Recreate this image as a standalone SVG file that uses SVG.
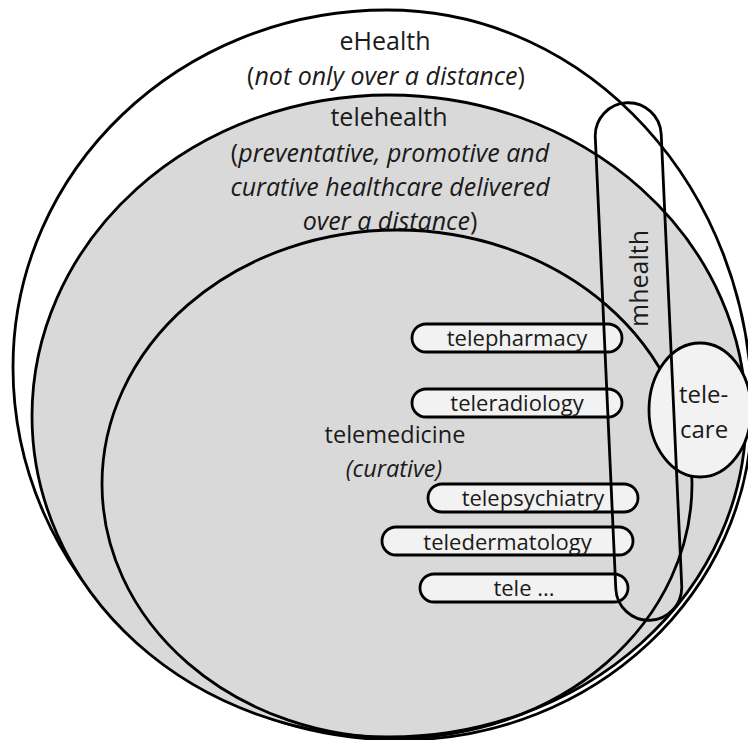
<svg xmlns="http://www.w3.org/2000/svg" width="748" height="740" viewBox="0 0 748 740">
<style>
.ln{stroke:#000;stroke-width:2.8;}
.grey{fill:#d9d9d9;}
.light{fill:#f2f2f2;}
text{font-family:"Open Sans","Liberation Sans",sans-serif;fill:#1a1a1a;}
.big{font-size:25px;text-anchor:middle;}
.mid{font-size:23.5px;text-anchor:middle;}
.pill{font-size:22px;text-anchor:middle;}
.it{font-style:italic;}
</style>
<rect width="748" height="740" fill="#fff"/>
<g id="ehealth">
<path class="ln" fill="#fff" d="M 387 10 C 589 10 752 189 752 410 C 752 592 594 740 400 740 C 186 740 13 573 13 367 C 13 170 180 10 387 10 Z"/>
<text class="big" x="385" y="50">eHealth</text>
<text class="big" x="386" y="85">(<tspan class="it">not only over a distance</tspan>)</text>
</g>
<g id="telehealth">
<ellipse class="ln grey" cx="389" cy="416" rx="357" ry="321"/>
<text class="big" x="389" y="126">telehealth</text>
<text class="big" x="390" y="162">(<tspan class="it">preventative, promotive and</tspan></text>
<text class="big it" x="390" y="196">curative healthcare delivered</text>
<text class="big" x="390" y="230"><tspan class="it">over a distance</tspan>)</text>
</g>
<g id="telemedicine">
<ellipse class="ln" fill="none" cx="397" cy="484" rx="295" ry="254"/>
<text class="mid" x="395" y="443">telemedicine</text>
<text class="mid it" x="394" y="477">(curative)</text>
</g>
<g id="telepharmacy">
<rect class="ln light" x="412" y="324" width="210" height="28" rx="14"/>
<text class="pill" x="517" y="346">telepharmacy</text>
</g>
<g id="teleradiology">
<rect class="ln light" x="412" y="389" width="210" height="28" rx="14"/>
<text class="pill" x="517" y="411">teleradiology</text>
</g>
<g id="telepsychiatry">
<rect class="ln light" x="428" y="484" width="210" height="28" rx="14"/>
<text class="pill" x="533" y="506">telepsychiatry</text>
</g>
<g id="teledermatology">
<rect class="ln light" x="382" y="527" width="251" height="28" rx="14"/>
<text class="pill" x="507.5" y="549.5">teledermatology</text>
</g>
<g id="tele-other">
<rect class="ln light" x="420" y="574" width="208" height="28" rx="14"/>
<text class="pill" x="524" y="596">tele ...</text>
</g>
<g id="telecare">
<ellipse class="ln light" cx="700" cy="410" rx="51" ry="67"/>
</g>
<g id="mhealth">
<rect class="ln" fill="none" x="-33" y="-259" width="66" height="518" rx="33" transform="translate(638.5 361.5) rotate(-2.6)"/>
<text class="big" transform="translate(648 278.5) rotate(-90)" x="0" y="0">mhealth</text>
</g>
<g id="telecare-label">
<text font-size="24" x="679" y="403">tele-</text>
<text font-size="24" x="680" y="438">care</text>
</g>
<g id="connectors"/>
</svg>
